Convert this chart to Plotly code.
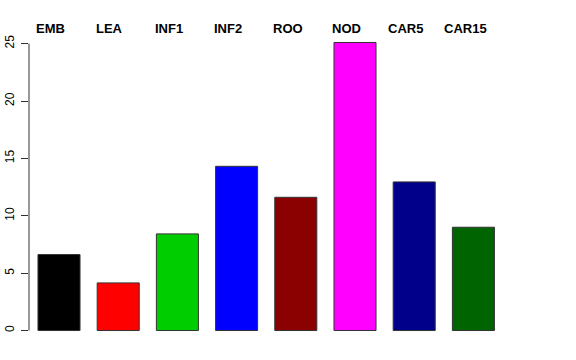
import plotly.graph_objects as go

categories = ["EMB", "LEA", "INF1", "INF2", "ROO", "NOD", "CAR5", "CAR15"]
values = [6.62, 4.15, 8.42, 14.31, 11.61, 25.1, 12.95, 9.0]
colors = ["#000000", "#FF0000", "#00CD00", "#0000FF", "#8B0000", "#FF00FF", "#00008B", "#006400"]
ytick_vals = [0, 5, 10, 15, 20, 25]

W, H = 576, 360
ml, mr, mt, mb = 29, 30, 31.4, 17.5
px_per_x = 59.2
x0 = -(59 - ml) / px_per_x
x1 = x0 + (W - ml - mr) / px_per_x
ylo, yhi = -1.0, 26.1

xs = list(range(len(categories)))

fig = go.Figure()
fig.add_trace(go.Bar(
    x=xs, y=values, width=0.71,
    marker=dict(color=colors, line=dict(color="#333333", width=1)),
    showlegend=False, hoverinfo="skip",
))

# labels above each bar (R-style top labels, slightly offset left)
label_shift = -0.14
for i, c in enumerate(categories):
    fig.add_annotation(
        x=i + label_shift, y=1, xref="x", yref="paper", yanchor="middle",
        text=f"<b>{c}</b>", showarrow=False,
        font=dict(family="Liberation Sans, Arial", size=13, color="black"),
        yshift=2.2,
    )

# y axis line from 0 to 25
fig.add_shape(type="line", xref="paper", yref="y", x0=0, x1=0,
              y0=ytick_vals[0], y1=ytick_vals[-1],
              line=dict(color="#333333", width=1))

fig.update_layout(
    width=W, height=H, autosize=False,
    margin=dict(l=ml, r=mr, t=mt, b=mb, pad=0),
    plot_bgcolor="white", paper_bgcolor="white",
    font=dict(family="Liberation Sans, Arial", size=12, color="black"),
    bargap=0,
)
fig.update_xaxes(range=[x0, x1], visible=False, automargin=False)
fig.update_yaxes(
    range=[ylo, yhi], tickvals=ytick_vals, ticks="outside", ticklen=7,
    tickcolor="#333333", tickangle=-90, showgrid=False, zeroline=False,
    showline=False, ticklabelstandoff=2, automargin=False,
    tickfont=dict(family="Liberation Sans, Arial", size=12, color="black"),
)

fig.write_html(
    "out.html",
    config={"displayModeBar": False, "staticPlot": True},
    post_script="document.body.style.margin='0';document.body.style.overflow='hidden';",
)
